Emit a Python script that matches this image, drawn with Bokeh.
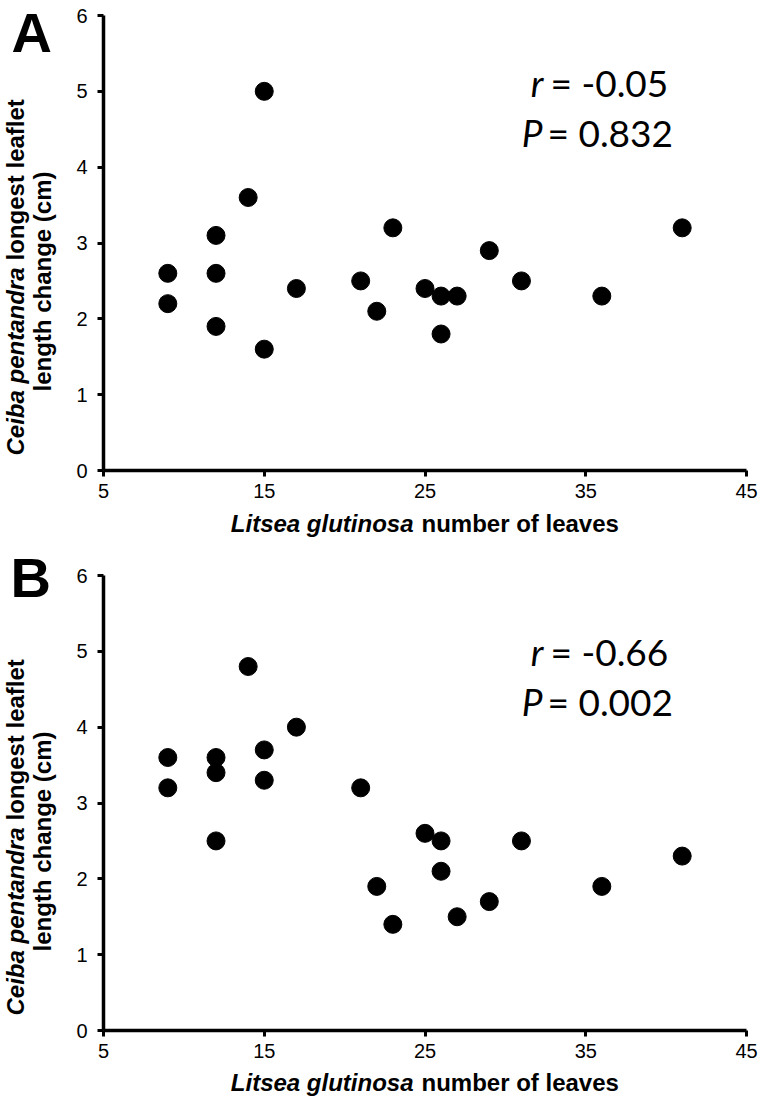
import math
from bokeh.plotting import figure
from bokeh.models import Range1d, Label, FixedTicker
from bokeh.layouts import column
from bokeh.embed import file_html
from bokeh.resources import INLINE

# ---------------- data ----------------
leaves_a = [9, 9, 12, 12, 12, 14, 15, 15, 17, 21, 22, 23, 25, 26, 26, 27, 29, 31, 36, 41]
change_a = [2.6, 2.2, 3.1, 2.6, 1.9, 3.6, 5.0, 1.6, 2.4, 2.5, 2.1, 3.2, 2.4, 2.3, 1.8, 2.3, 2.9, 2.5, 2.3, 3.2]
leaves_b = [9, 9, 12, 12, 12, 14, 15, 15, 17, 21, 22, 23, 25, 26, 26, 27, 29, 31, 36, 41]
change_b = [3.6, 3.2, 3.6, 3.4, 2.5, 4.8, 3.7, 3.3, 4.0, 3.2, 1.9, 1.4, 2.6, 2.5, 2.1, 1.5, 1.7, 2.5, 1.9, 2.3]
x_ticks = [5, 15, 25, 35, 45]
y_ticks = [0, 1, 2, 3, 4, 5, 6]
panel_letters = ["A", "B"]
stats_r = ["-0.05", "-0.66"]
stats_p = ["0.832", "0.002"]
x_title_italic = "Litsea glutinosa"
x_title_plain = "number of leaves"
y_title_italic = "Ceiba pentandra"
y_title_plain1 = "longest leaflet"
y_title_plain2 = "length change (cm)"

W = 763
FONT = "Liberation Sans"
STAT_FONT = "Lato"
SHIFT = 0.42   # empirical baseline correction (fraction of the font size)

X_LEFT, X_RIGHT = 103, 746     # page x where x = 5 and x = 45 lie
FRAME_H = 455                  # pixel height of the 0..6 y span
SX = (X_RIGHT - X_LEFT) / 40.0
SY = FRAME_H / 6.0


def make_panel(xs, ys, letter, r_txt, p_txt, page_y0, height, frame_top, cfg):
    # frame_top: page y where y = 6 lies; page_y0: page y of the figure's top edge
    top = frame_top - page_y0
    bot = top + FRAME_H

    def dx(px):
        return 5 + (px - X_LEFT) / SX

    def dy(py_page):
        return (bot - (py_page - page_y0)) / SY

    p = figure(width=W, height=height, output_backend="svg", toolbar_location=None,
               x_range=Range1d(dx(0), dx(W)),
               y_range=Range1d(dy(page_y0 + height), dy(page_y0)),
               min_border=0)
    p.outline_line_color = None
    p.xgrid.visible = False
    p.ygrid.visible = False
    p.background_fill_color = "white"
    p.border_fill_color = "white"

    p.xaxis.fixed_location = 0
    p.yaxis.fixed_location = 5
    p.xaxis.bounds = (5, 45)
    p.yaxis.bounds = (0, 6)
    for ax, ticks in ((p.xaxis[0], x_ticks), (p.yaxis[0], y_ticks)):
        ax.ticker = FixedTicker(ticks=ticks)
        ax.minor_tick_line_color = None
        ax.axis_line_width = 3.5
        ax.axis_line_color = "black"
        ax.major_tick_line_width = 3
        ax.major_tick_line_color = "black"
        ax.major_tick_in = 0
        ax.major_tick_out = 6
        ax.major_label_text_font = FONT
        ax.major_label_text_font_size = "20px"
        ax.major_label_text_color = "black"
    p.xaxis.major_label_standoff = 7
    p.yaxis.major_label_standoff = 10

    p.scatter(xs, ys, size=18, color="black")

    def lab(text, x, y, size, style="bold", align="left", angle=0, font=FONT):
        # x, y: baseline position in page pixels
        fs = float(size.replace("px", ""))
        if angle == 0:
            y = y - SHIFT * fs
        else:
            x = x - SHIFT * fs
        p.add_layout(Label(x=dx(x), y=dy(y), text=text, text_font=font,
                           text_font_size=size, text_font_style=style,
                           text_align=align, text_baseline="alphabetic",
                           angle=angle, text_color="black"))

    mid = cfg["ymid"]
    # panel letter
    lab(letter, cfg["letter_x"], cfg["letter_y"], "56px", "bold")
    # x axis title
    lab(x_title_italic, 413, cfg["xt_y"], "24px", "bold italic", "right")
    lab(x_title_plain, 421, cfg["xt_y"], "24px", "bold", "left")
    # y axis title
    a = math.pi / 2
    lab(y_title_italic, 25, mid - 14, "24px", "bold italic", "right", a)
    lab(y_title_plain1, 25, mid - 21, "24px", "bold", "left", a)
    lab(y_title_plain2, 52, mid, "24px", "bold", "center", a)
    # statistics
    lab("r", 543, cfg["r_y"], "37px", "italic", "right", font=STAT_FONT)
    lab("= " + r_txt, 550, cfg["r_y"], "37px", "normal", "left", font=STAT_FONT)
    lab("P", 542, cfg["p_y"], "37px", "italic", "right", font=STAT_FONT)
    lab("= " + p_txt, 547, cfg["p_y"], "37px", "normal", "left", font=STAT_FONT)
    return p


pa = make_panel(leaves_a, change_a, panel_letters[0], stats_r[0], stats_p[0],
                0, 545, 15,
                dict(letter_x=11, letter_y=56, xt_y=533, r_y=98, p_y=148, ymid=281))
pb = make_panel(leaves_b, change_b, panel_letters[1], stats_r[1], stats_p[1],
                545, 557, 575,
                dict(letter_x=10, letter_y=601, xt_y=1092, r_y=667, p_y=717, ymid=841))

layout = column(pa, pb, spacing=0)
open("out.html", "w").write(file_html(layout, INLINE))
